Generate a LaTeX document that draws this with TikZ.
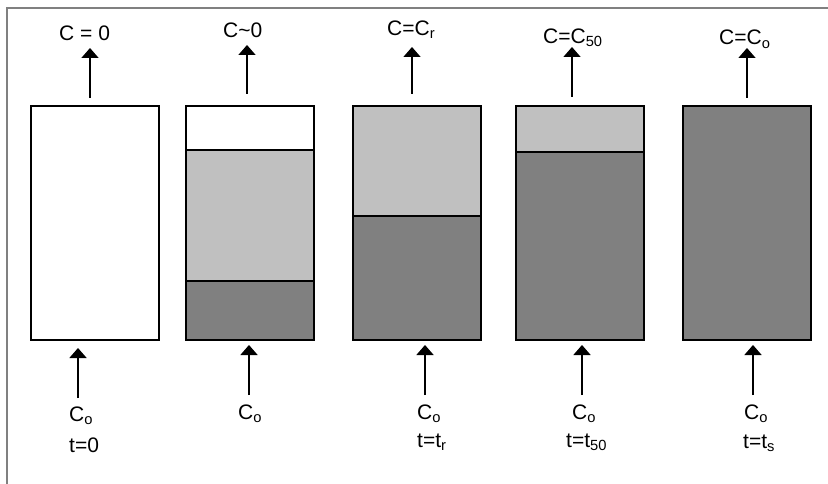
\documentclass[tikz,border=0pt]{standalone}
\usepackage{fontspec}
\setmainfont{Liberation Sans}
\usetikzlibrary{positioning,arrows.meta}

\definecolor{partfill}{RGB}{192,192,192}
\definecolor{fullfill}{RGB}{128,128,128}

\tikzset{
  layer/.style={draw=black, line width=1.3pt, minimum width=128pt, inner sep=0pt, outer sep=0pt},
  conc/.style={font=\fontsize{21}{25}\selectfont, inner sep=0pt, anchor=base west},
  flow/.style={line width=1.6pt, -{Triangle[width=17pt,length=10pt]}}
}

\begin{document}
\begin{tikzpicture}[x=1pt,y=-1pt]
\useasboundingbox (0,0) rectangle (828,484);
\draw[black!50, line width=2pt] (7,484) -- (7,8) -- (828,8);

% columns
\node[layer, minimum height=234pt, anchor=north west] (A1) at (31,106) {};

\node[layer, minimum height=44pt, anchor=north west] (B1) at (186,106) {};
\node[layer, fill=partfill, minimum height=131pt, below=0pt of B1] (B2) {};
\node[layer, fill=fullfill, minimum height=59pt, below=0pt of B2] (B3) {};

\node[layer, fill=partfill, minimum height=110pt, anchor=north west] (C1) at (353,106) {};
\node[layer, fill=fullfill, minimum height=124pt, below=0pt of C1] (C2) {};

\node[layer, fill=partfill, minimum height=46pt, anchor=north west] (D1) at (516,106) {};
\node[layer, fill=fullfill, minimum height=188pt, below=0pt of D1] (D2) {};

\node[layer, fill=fullfill, minimum height=234pt, anchor=north west] (E1) at (683,106) {};

% outlet concentrations
\node[conc] (outA) at (59,40.5) {C = 0};
\node[conc] (outB) at (223,38) {C\char"007E 0};
\node[conc] (outC) at (387,35.5) {C=C\textsubscript{r}};
\node[conc] (outD) at (543,43.5) {C=C\textsubscript{50}};
\node[conc] (outE) at (719,45) {C=C\textsubscript{o}};

\coordinate (tipA) at (90,48);
\coordinate (tipB) at (247,45);
\coordinate (tipC) at (412,47);
\coordinate (tipD) at (572,47);
\coordinate (tipE) at (747,48);

\draw[flow, shorten <=8pt] (tipA |- A1.north) -- (tipA);
\draw[flow, shorten <=12pt] (tipB |- B1.north) -- (tipB);
\draw[flow, shorten <=12pt] (tipC |- C1.north) -- (tipC);
\draw[flow, shorten <=9pt] (tipD |- D1.north) -- (tipD);
\draw[flow, shorten <=8pt] (tipE |- E1.north) -- (tipE);

% inlet concentrations and times
\node[conc] (inA) at (69,421) {C\textsubscript{o}};
\node[conc] (inB) at (238,419.5) {C\textsubscript{o}};
\node[conc] (inC) at (417,419) {C\textsubscript{o}};
\node[conc] (inD) at (572,419) {C\textsubscript{o}};
\node[conc] (inE) at (744,419) {C\textsubscript{o}};

\node[conc] (timeA) at (69,452) {t=0};
\node[conc] (timeC) at (417,447) {t=t\textsubscript{r}};
\node[conc] (timeD) at (566,447) {t=t\textsubscript{50}};
\node[conc] (timeE) at (743,448) {t=t\textsubscript{s}};

\coordinate (feedA) at (78,398);
\coordinate (feedB) at (249,395);
\coordinate (feedC) at (425,395);
\coordinate (feedD) at (582,395);
\coordinate (feedE) at (753,395);

\draw[flow, shorten >=8pt] (feedA) -- (feedA |- A1.south);
\draw[flow, shorten >=5pt] (feedB) -- (feedB |- B3.south);
\draw[flow, shorten >=5pt] (feedC) -- (feedC |- C2.south);
\draw[flow, shorten >=5pt] (feedD) -- (feedD |- D2.south);
\draw[flow, shorten >=5pt] (feedE) -- (feedE |- E1.south);

\end{tikzpicture}
\end{document}
